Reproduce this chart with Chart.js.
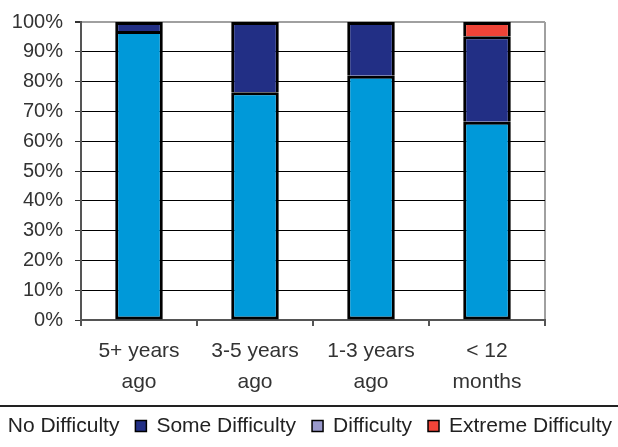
<!DOCTYPE html>
<html>
<head>
<meta charset="utf-8">
<script src="https://cdn.jsdelivr.net/npm/chart.js@4/dist/chart.umd.min.js"></script>
<style>
  html, body { margin: 0; padding: 0; background: #fff; }
  #wrap { width: 618px; height: 447px; }
</style>
</head>
<body>
<div id="wrap"><canvas id="chart" width="618" height="447"></canvas></div>
<script>
var categories = [["5+ years", "ago"], ["3-5 years", "ago"], ["1-3 years", "ago"], ["< 12", "months"]];
var noDifficulty = [97, 76.4, 82, 66.5];
var someDifficulty = [3, 23.6, 18, 28.7];
var difficulty = [0, 0, 0, 0];
var extremeDifficulty = [0, 0, 0, 4.8];
var yTicks = [0, 10, 20, 30, 40, 50, 60, 70, 80, 90, 100];

var FONT = "'Liberation Sans', Arial, sans-serif";

// legend drawn below a rule, laid out from the right edge like the original
var bottomLegend = {
  id: 'bottomLegend',
  afterDraw: function(chart) {
    var ctx = chart.ctx;
    var lineY = chart.chartArea.bottom + 86;
    ctx.save();
    ctx.strokeStyle = '#222';
    ctx.lineWidth = 2;
    ctx.beginPath();
    ctx.moveTo(0, lineY);
    ctx.lineTo(chart.width, lineY);
    ctx.stroke();

    ctx.font = '21px ' + FONT;
    ctx.textBaseline = 'middle';
    var cy = lineY + 20;
    var box = 11, gap = 10, spacing = 16;
    var x = 612;
    var sets = chart.data.datasets;
    for (var i = sets.length - 1; i >= 0; i--) {
      var w = ctx.measureText(sets[i].label).width;
      var tx = x - w;
      ctx.fillStyle = '#222';
      ctx.fillText(sets[i].label, tx, cy);
      var bx = tx - gap - box;
      ctx.fillStyle = sets[i].backgroundColor;
      ctx.fillRect(bx, cy - box / 2, box, box);
      ctx.strokeStyle = '#000';
      ctx.lineWidth = 1.5;
      ctx.strokeRect(bx, cy - box / 2, box, box);
      x = bx - spacing;
    }
    ctx.restore();
  }
};

var bg = {
  id: 'bg',
  beforeDraw: function(chart) {
    var ctx = chart.ctx;
    ctx.save();
    ctx.fillStyle = '#fff';
    ctx.fillRect(0, 0, chart.width, chart.height);
    ctx.restore();
  }
};

function ds(label, data, color, bottom) {
  return {
    label: label,
    // zero segments are left out so they leave no border line
    data: data.map(function(v) { return v === 0 ? null : v; }),
    backgroundColor: color,
    borderColor: '#000',
    borderWidth: 3,
    borderSkipped: bottom ? false : 'start',
    barPercentage: 0.41,
    categoryPercentage: 1
  };
}

new Chart(document.getElementById('chart'), {
  type: 'bar',
  data: {
    labels: categories,
    datasets: [
      ds('No Difficulty', noDifficulty, '#0099D9', true),
      ds('Some Difficulty', someDifficulty, '#222F85'),
      ds('Difficulty', difficulty, '#9999CC'),
      ds('Extreme Difficulty', extremeDifficulty, '#F04438')
    ]
  },
  options: {
    responsive: false,
    animation: false,
    layout: { padding: { top: 16, right: 73, bottom: 41, left: 0 } },
    plugins: {
      legend: { display: false },
      tooltip: { enabled: false }
    },
    scales: {
      x: {
        stacked: true,
        offset: true,
        grid: {
          offset: true,
          drawOnChartArea: true,
          color: function(c) { return c.tick ? 'transparent' : '#A0A0A0'; },
          lineWidth: 2,
          tickColor: '#555',
          tickLength: 6
        },
        border: { color: '#555', width: 2 },
        ticks: {
          color: '#333',
          font: { family: FONT, size: 21, lineHeight: 1.48 },
          padding: 10,
          maxRotation: 0
        },
        afterFit: function(s) { s.height = 86; }
      },
      y: {
        stacked: true,
        min: 0,
        max: 100,
        afterBuildTicks: function(s) {
          s.ticks = yTicks.map(function(v) { return { value: v }; });
        },
        grid: {
          color: function(c) { return c.tick && c.tick.value === 100 ? '#A0A0A0' : '#000'; },
          lineWidth: function(c) { return c.tick && c.tick.value === 100 ? 2 : 1; },
          tickColor: '#333',
          tickLength: 6
        },
        border: { color: '#555', width: 2 },
        ticks: {
          color: '#333',
          font: { family: FONT, size: 20, lineHeight: 1 },
          padding: 12,
          callback: function(v) { return v + '%'; }
        },
        afterFit: function(s) { s.width = 81; }
      }
    }
  },
  plugins: [bg, bottomLegend]
});
</script>
</body>
</html>
